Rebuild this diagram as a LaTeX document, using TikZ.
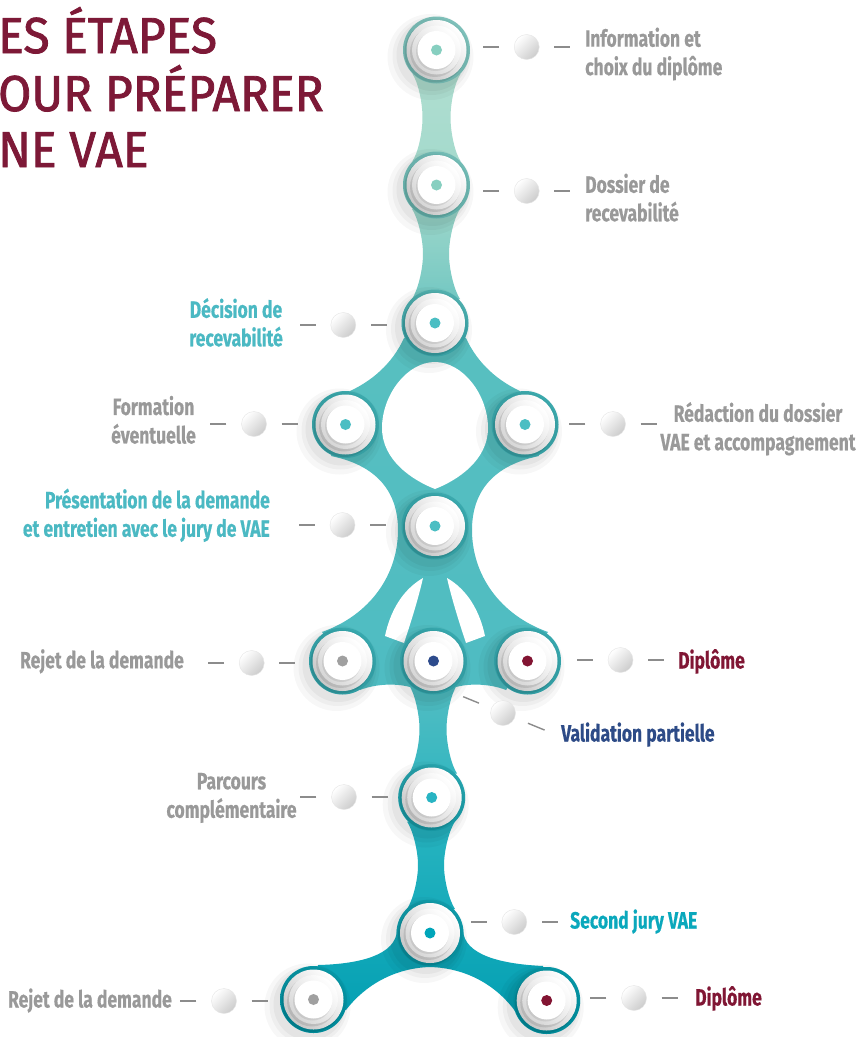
\documentclass[tikz,border=0pt]{standalone}
\usepackage{fontspec}
\newfontfamily\labfont{Fira Sans}[FakeStretch=0.745,FakeBold=0.5]
\newfontfamily\titfont{Fira Sans}[FakeStretch=0.95,FakeBold=1.6]
\usetikzlibrary{calc}

\definecolor{titlered}{RGB}{125,25,55}
\definecolor{labgray}{RGB}{153,153,153}
\definecolor{labteal}{RGB}{75,185,195}
\definecolor{labteal2}{RGB}{10,168,188}
\definecolor{labnavy}{RGB}{45,75,135}
\definecolor{labred}{RGB}{128,22,52}
\definecolor{dotmint}{RGB}{135,207,192}
\definecolor{dotteal}{RGB}{75,190,195}
\definecolor{dotteal2}{RGB}{0,165,185}
\definecolor{dotteal3}{RGB}{40,180,195}
\definecolor{dotgray}{RGB}{160,160,160}
\definecolor{dotnavy}{RGB}{45,75,140}
\definecolor{dotred}{RGB}{130,20,50}
\definecolor{rimc}{RGB}{0,130,140}
\definecolor{tickc}{RGB}{140,140,140}

\definecolor{ch0}{RGB}{185,226,212}
\definecolor{ch1}{RGB}{160,216,203}
\definecolor{ch2}{RGB}{125,203,196}
\definecolor{ch3}{RGB}{88,191,192}
\definecolor{ch4}{RGB}{78,188,194}
\definecolor{ch5}{RGB}{40,180,192}
\definecolor{ch6}{RGB}{0,158,178}

\pgfdeclareverticalshading{chainshade}{100bp}{color(0bp)=(ch6); color(25bp)=(ch6); color(35.46bp)=(ch5); color(41.25bp)=(ch4); color(58.61bp)=(ch3); color(61.5bp)=(ch2); color(65.36bp)=(ch1); color(75bp)=(ch0); color(100bp)=(ch0)}

\newcommand\chainpiece[1]{\begin{scope}\clip #1; \shade[shading=chainshade] (0,0) rectangle (860,1037);\end{scope}}

% #1 x, #2 y top, #3 y bottom, #4 half width of the neck
\newcommand\neck[4]{\chainpiece{({#1-24},{#2+24}) .. controls ({#1-18.5},{#2+32}) and ({#1-#4},{(#2+#3)/2-0.35*((#3-#2)/2-24)}) .. ({#1-#4},{(#2+#3)/2}) .. controls ({#1-#4},{(#2+#3)/2+0.35*((#3-#2)/2-24)}) and ({#1-18.5},{#3-32}) .. ({#1-24},{#3-24}) -- ({#1+24},{#3-24}) .. controls ({#1+18.5},{#3-32}) and ({#1+#4},{(#2+#3)/2+0.35*((#3-#2)/2-24)}) .. ({#1+#4},{(#2+#3)/2}) .. controls ({#1+#4},{(#2+#3)/2-0.35*((#3-#2)/2-24)}) and ({#1+18.5},{#2+32}) .. ({#1+24},{#2+24}) -- cycle}}

\newcommand\stepdisc[2]{%
  \fill[black,opacity=0.03] ($(#1)+(-6,7)$) circle (43);
  \fill[black,opacity=0.035] ($(#1)+(-5,6)$) circle (39);
  \fill[black,opacity=0.04] ($(#1)+(-4,5)$) circle (36);
  \fill[rimc,opacity=0.28] (#1) circle (33.5);
  \fill[black,opacity=0.10] ($(#1)+(-1.5,2)$) circle (30.5);
  \shade[top color=white,bottom color=black!22,shading angle=-45] (#1) circle (30);
  \fill[black,opacity=0.10] ($(#1)+(-1.5,2)$) circle (25);
  \shade[top color=white,bottom color=black!16,shading angle=-45] (#1) circle (24.5);
  \fill[black,opacity=0.08] ($(#1)+(-1,1.5)$) circle (19.5);
  \fill[white] (#1) circle (19);
  \fill[#2] (#1) circle (5.5);
}

\tikzset{
  knob/.style={circle, minimum size=25pt, inner sep=0pt, top color=white, bottom color=black!20, shading angle=45, draw=black!10, line width=0.4pt},
  tick/.style={draw=tickc, line width=1.4pt},
  lab/.style={font=\labfont\fontsize{23.5}{28.5}\selectfont\bfseries, inner sep=0pt, text=labgray},
  titletxt/.style={font=\titfont\fontsize{50.5}{57}\selectfont, text=titlered, inner sep=0pt, anchor=base west}
}

\newcommand\knobrow[3]{\node[knob] (#1) at (#2,#3) {};
  \draw[tick] ([xshift=-15pt]#1.west) -- ++(-16,0);
  \draw[tick] ([xshift=15pt]#1.east) -- ++(16,0);}

\begin{document}
\begin{tikzpicture}[x=1pt,y=-1pt]
\useasboundingbox (0,0) rectangle (860,1037);
\fill[white] (0,0) rectangle (860,1037);

\coordinate (n1) at (436.5,50);
\coordinate (n2) at (436.5,185);
\coordinate (n3) at (435,323);
\coordinate (n4) at (345.5,424.5);
\coordinate (n5) at (525,424.5);
\coordinate (n6) at (435,526);
\coordinate (n7) at (342.5,661);
\coordinate (n8) at (433.5,661);
\coordinate (n9) at (527.5,661);
\coordinate (n10) at (431.7,797.5);
\coordinate (n11) at (430,933);
\coordinate (n12) at (313.5,999.5);
\coordinate (n13) at (546.7,1000.5);

% teal chain
\chainpiece{(n1) circle (33.5) (n2) circle (33.5) (n3) circle (33.5) (n4) circle (33.5) (n5) circle (33.5) (n6) circle (33.5) (n7) circle (33.5) (n8) circle (33.5) (n9) circle (33.5) (n10) circle (33.5) (n11) circle (33.5) (n12) circle (33.5) (n13) circle (33.5)}
\neck{436.5}{50}{185}{14}
\neck{436}{185}{323}{13}
\neck{433}{661}{797.5}{13.5}
\neck{431}{797.5}{933}{13}
% middle blob
\chainpiece{(435,323) -- (404,338) .. controls (395,358) and (378,378) .. (350,391) -- (345.5,424.5) -- (331,456) .. controls (375,465) and (398,490) .. (398,530) .. controls (398,575) and (370,615) .. (322,632) -- (342.5,661) -- (360,690) .. controls (375,684) and (395,683) .. (410,687) -- (433.5,661) -- (456,687) .. controls (471,683) and (491,684) .. (506,690) -- (527.5,661) -- (548,632) .. controls (500,615) and (472,575) .. (472,530) .. controls (472,490) and (495,465) .. (539,456) -- (525,424.5) -- (520,391) .. controls (492,378) and (475,358) .. (466,338) -- cycle}
% bottom blob
\chainpiece{(430,933) -- (397,930) .. controls (396,955) and (360,964) .. (318,965) -- (313.5,999.5) -- (346,1010) .. controls (365,985) and (395,968) .. (430,967) .. controls (466,968) and (496,985) .. (515,1011) -- (546.7,1000.5) -- (543,966) .. controls (501,964) and (464,955) .. (463,930) -- cycle}

% holes
\fill[white] (435,362) .. controls (463,362) and (488,395) .. (488,428) .. controls (488,460) and (458,480) .. (435,489) .. controls (412,480) and (382,460) .. (382,428) .. controls (382,395) and (407,362) .. (435,362) -- cycle;
\fill[white] (423,578) .. controls (418,600) and (410,625) .. (404,643) -- (385,636) .. controls (390,612) and (402,590) .. (423,578) -- cycle;
\fill[white] (447,578) .. controls (452,600) and (460,625) .. (466,643) -- (485,636) .. controls (480,612) and (468,590) .. (447,578) -- cycle;

% discs
\stepdisc{n1}{dotmint}
\stepdisc{n2}{dotmint}
\stepdisc{n3}{dotteal}
\stepdisc{n4}{dotteal}
\stepdisc{n5}{dotteal}
\stepdisc{n6}{dotteal}
\stepdisc{n7}{dotgray}
\stepdisc{n8}{dotnavy}
\stepdisc{n9}{dotred}
\stepdisc{n10}{dotteal3}
\stepdisc{n11}{dotteal2}
\stepdisc{n12}{dotgray}
\stepdisc{n13}{dotred}

% title
\node[titletxt] (t1) at (-2,53) {ES ÉTAPES};
\node[titletxt] (t2) at (-2,111) {OUR PRÉPARER};
\node[titletxt] (t3) at (-2,167) {NE VAE};

% connectors
\knobrow{s1}{526.7}{47}
\knobrow{s2}{526.7}{191}
\knobrow{s3}{343.3}{325}
\knobrow{s4}{254}{424}
\knobrow{s5}{613}{424}
\knobrow{s6}{342.5}{525}
\knobrow{s7}{251.7}{663}
\knobrow{s8}{620.5}{660}
\knobrow{s10}{344}{797}
\knobrow{s11}{514.3}{922}
\knobrow{s12}{224}{1001}
\knobrow{s13}{634}{998}
\node[knob] (s9) at (503,713) {};
\draw[tick] ($(s9.center)+(202.3:26)$) -- ($(s9.center)+(202.3:43)$);
\draw[tick] ($(s9.center)+(22.3:27)$) -- ($(s9.center)+(22.3:45)$);

% labels
\node[lab, anchor=west, align=left] (l1) at (585,55.2) {Information et\strut\\choix du diplôme\strut};
\node[lab, anchor=west, align=left] (l2) at (585,201.3) {Dossier de\strut\\recevabilité\strut};
\node[lab, text=labteal, align=center] (l3) at (236,326.3) {Décision de\strut\\recevabilité\strut};
\node[lab, align=center] (l4) at (153.5,423.5) {Formation\strut\\éventuelle\strut};
\node[lab, align=center] (l5) at (758,430.3) {Rédaction du dossier\strut\\VAE et accompagnement\strut};
\node[lab, text=labteal, anchor=east, align=right] (l6) at (270,516.8) {Présentation de la demande\strut\\et entretien avec le jury de VAE\strut};
\node[lab, anchor=base east] (l7) at (184,668.3) {Rejet de la demande};
\node[lab, text=labred, anchor=base west] (l8) at (678,668.5) {Diplôme};
\node[lab, text=labnavy, anchor=base west] (l9) at (561,741.5) {Validation partielle};
\node[lab, align=center] (l10) at (231.5,797.8) {Parcours\strut\\complémentaire\strut};
\node[lab, text=labteal2, anchor=base west] (l11) at (570,928.5) {Second jury VAE};
\node[lab, anchor=base east] (l12) at (172,1007.5) {Rejet de la demande};
\node[lab, text=labred, anchor=base west] (l13) at (695,1005.5) {Diplôme};
\end{tikzpicture}
\end{document}
